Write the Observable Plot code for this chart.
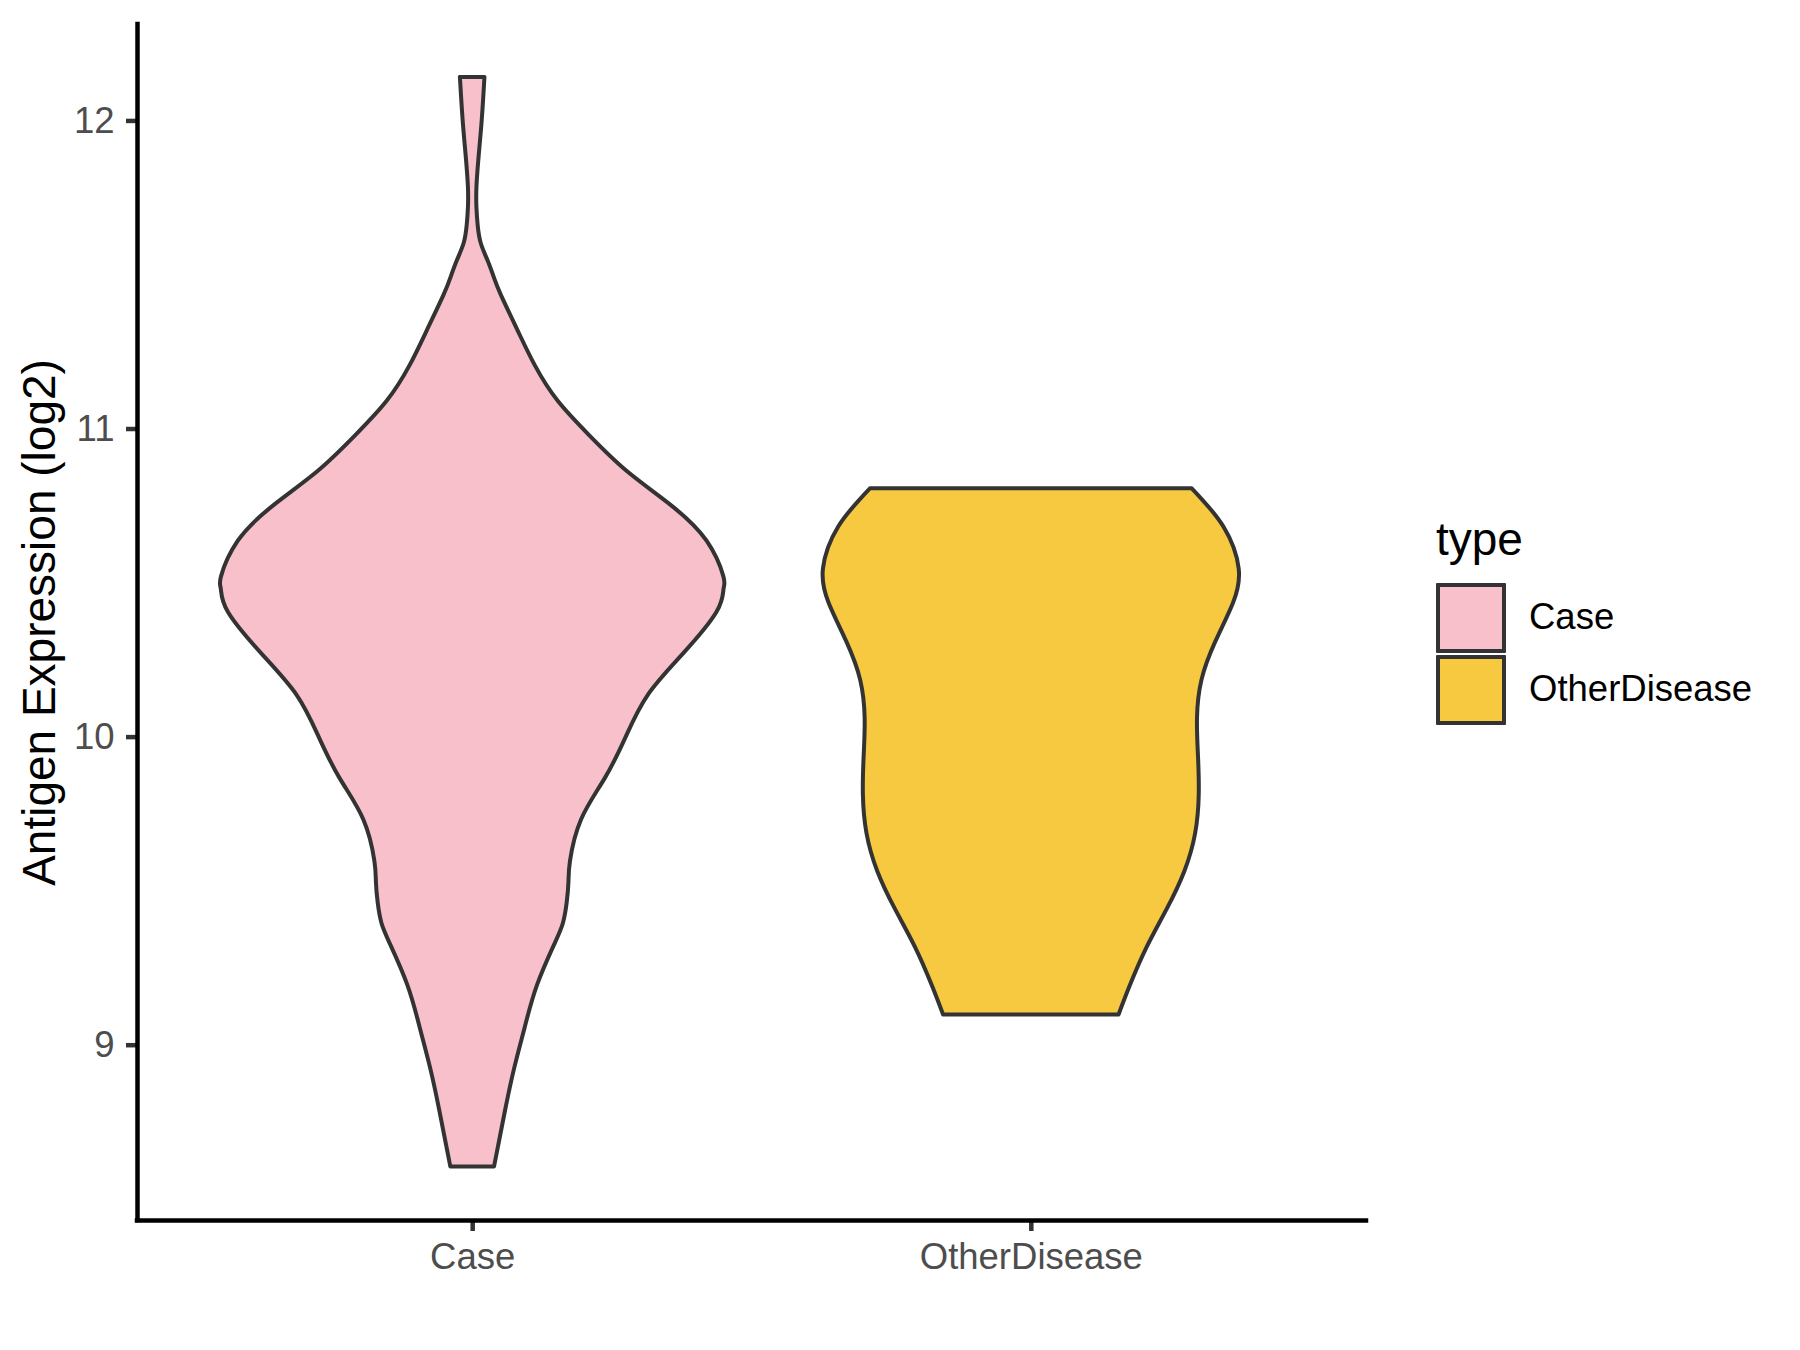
<!DOCTYPE html>
<html>
<head>
<meta charset="utf-8">
<script src="https://cdn.jsdelivr.net/npm/d3@7"></script>
<script src="https://cdn.jsdelivr.net/npm/@observablehq/plot@0.6"></script>
<style>
  html, body { margin: 0; padding: 0; background: #ffffff; }
  #wrap { position: relative; width: 1800px; height: 1350px; font-family: "Liberation Sans", Arial, sans-serif; }
  #wrap svg { display: block; }
  .legend-title { position: absolute; left: 1436px; top: 516px; font-size: 46px; line-height: 46px; color: #000; white-space: nowrap; }
  .legend-key { position: absolute; left: 1436px; width: 70px; height: 70px; box-sizing: border-box; border: 4px solid #333333; border-radius: 1px; }
  .legend-label { position: absolute; left: 1529px; font-size: 36.5px; line-height: 36.5px; color: #000; white-space: nowrap; }
</style>
</head>
<body>
<div id="wrap"></div>
<script>
// ---- data ----
const categories = ["Case", "OtherDisease"];
const fillColors = ["#F7C0CB", "#F6C940"];
const legendTitle = "type";
const yLabel = "Antigen Expression (log2)";
const yTicks = [9, 10, 11, 12];
const yDomain = [8.431, 12.313];
const xDomain = [0.4, 2.6];

// violin outline: expression value and relative density (1 = widest)
const caseY = [12.141, 12.116, 12.002, 11.887, 11.785, 11.716, 11.659, 11.602, 11.546, 11.489, 11.432, 11.318, 11.204, 11.089, 10.976, 10.862, 10.749, 10.635, 10.521, 10.480, 10.405, 10.270, 10.135, 10.000, 9.866, 9.731, 9.596, 9.529, 9.462, 9.395, 9.327, 9.194, 9.057, 8.924, 8.788, 8.605];
const caseDensity = [0.049, 0.047, 0.038, 0.026, 0.017, 0.017, 0.022, 0.034, 0.061, 0.087, 0.115, 0.181, 0.250, 0.341, 0.468, 0.615, 0.794, 0.933, 0.999, 1.000, 0.972, 0.839, 0.698, 0.611, 0.528, 0.433, 0.389, 0.383, 0.376, 0.361, 0.327, 0.258, 0.209, 0.167, 0.131, 0.087];

const otherY = [10.806, 10.682, 10.545, 10.434, 10.309, 10.185, 10.060, 9.937, 9.812, 9.688, 9.564, 9.440, 9.316, 9.191, 9.098];
const otherDensity = [0.640, 0.766, 0.827, 0.804, 0.734, 0.679, 0.661, 0.665, 0.668, 0.654, 0.611, 0.540, 0.460, 0.393, 0.349];

const violinHalfWidth = 0.45;

const rows = [];
caseY.forEach((y, i) => rows.push({type: categories[0], y, d: caseDensity[i]}));
otherY.forEach((y, i) => rows.push({type: categories[1], y, d: otherDensity[i]}));

const pos = t => categories.indexOf(t) + 1;

const chart = Plot.plot({
  width: 1800,
  height: 1350,
  marginLeft: 137,
  marginRight: 434,
  marginTop: 24,
  marginBottom: 130,
  style: {fontFamily: "'Liberation Sans', Arial, sans-serif", background: "#ffffff", overflow: "visible"},
  x: {domain: xDomain, axis: null},
  y: {domain: yDomain, axis: null},
  color: {domain: categories, range: fillColors},
  marks: [
    Plot.areaX(rows, {
      y: "y",
      x1: r => pos(r.type) - violinHalfWidth * r.d,
      x2: r => pos(r.type) + violinHalfWidth * r.d,
      z: "type",
      fill: "type",
      stroke: "#333333",
      strokeWidth: 4,
      strokeLinejoin: "round",
      curve: "natural"
    }),
    Plot.axisY({
      ticks: yTicks,
      tickFormat: d => String(d),
      tickSize: 11,
      tickPadding: 12,
      fontSize: 36.5,
      stroke: "#333333",
      fill: "#4D4D4D",
      strokeWidth: 4.5,
      label: null
    }),
    Plot.axisX({
      ticks: categories.map(pos),
      tickFormat: v => categories[v - 1],
      tickSize: 11,
      tickPadding: 12,
      fontSize: 36.5,
      stroke: "#333333",
      fill: "#4D4D4D",
      strokeWidth: 4.5,
      label: null
    }),
    Plot.ruleX([xDomain[0]], {stroke: "#000000", strokeWidth: 4.5, strokeLinecap: "square"}),
    Plot.ruleY([yDomain[0]], {stroke: "#000000", strokeWidth: 4.5, strokeLinecap: "square"}),
    Plot.text([yLabel], {
      frameAnchor: "left",
      rotate: -90,
      dx: -83,
      textAnchor: "middle",
      lineAnchor: "bottom",
      fontSize: 46,
      fill: "#000000"
    })
  ]
});

const wrap = document.getElementById("wrap");
wrap.appendChild(chart);

// legend (HTML, to the right of the plot)
const title = document.createElement("div");
title.className = "legend-title";
title.textContent = legendTitle;
wrap.appendChild(title);

const keyTops = [583, 655];
categories.forEach((c, i) => {
  const key = document.createElement("div");
  key.className = "legend-key";
  key.style.top = keyTops[i] + "px";
  key.style.background = fillColors[i];
  wrap.appendChild(key);
  const lab = document.createElement("div");
  lab.className = "legend-label";
  lab.style.top = (keyTops[i] + 16) + "px";
  lab.textContent = c;
  wrap.appendChild(lab);
});
</script>
</body>
</html>
